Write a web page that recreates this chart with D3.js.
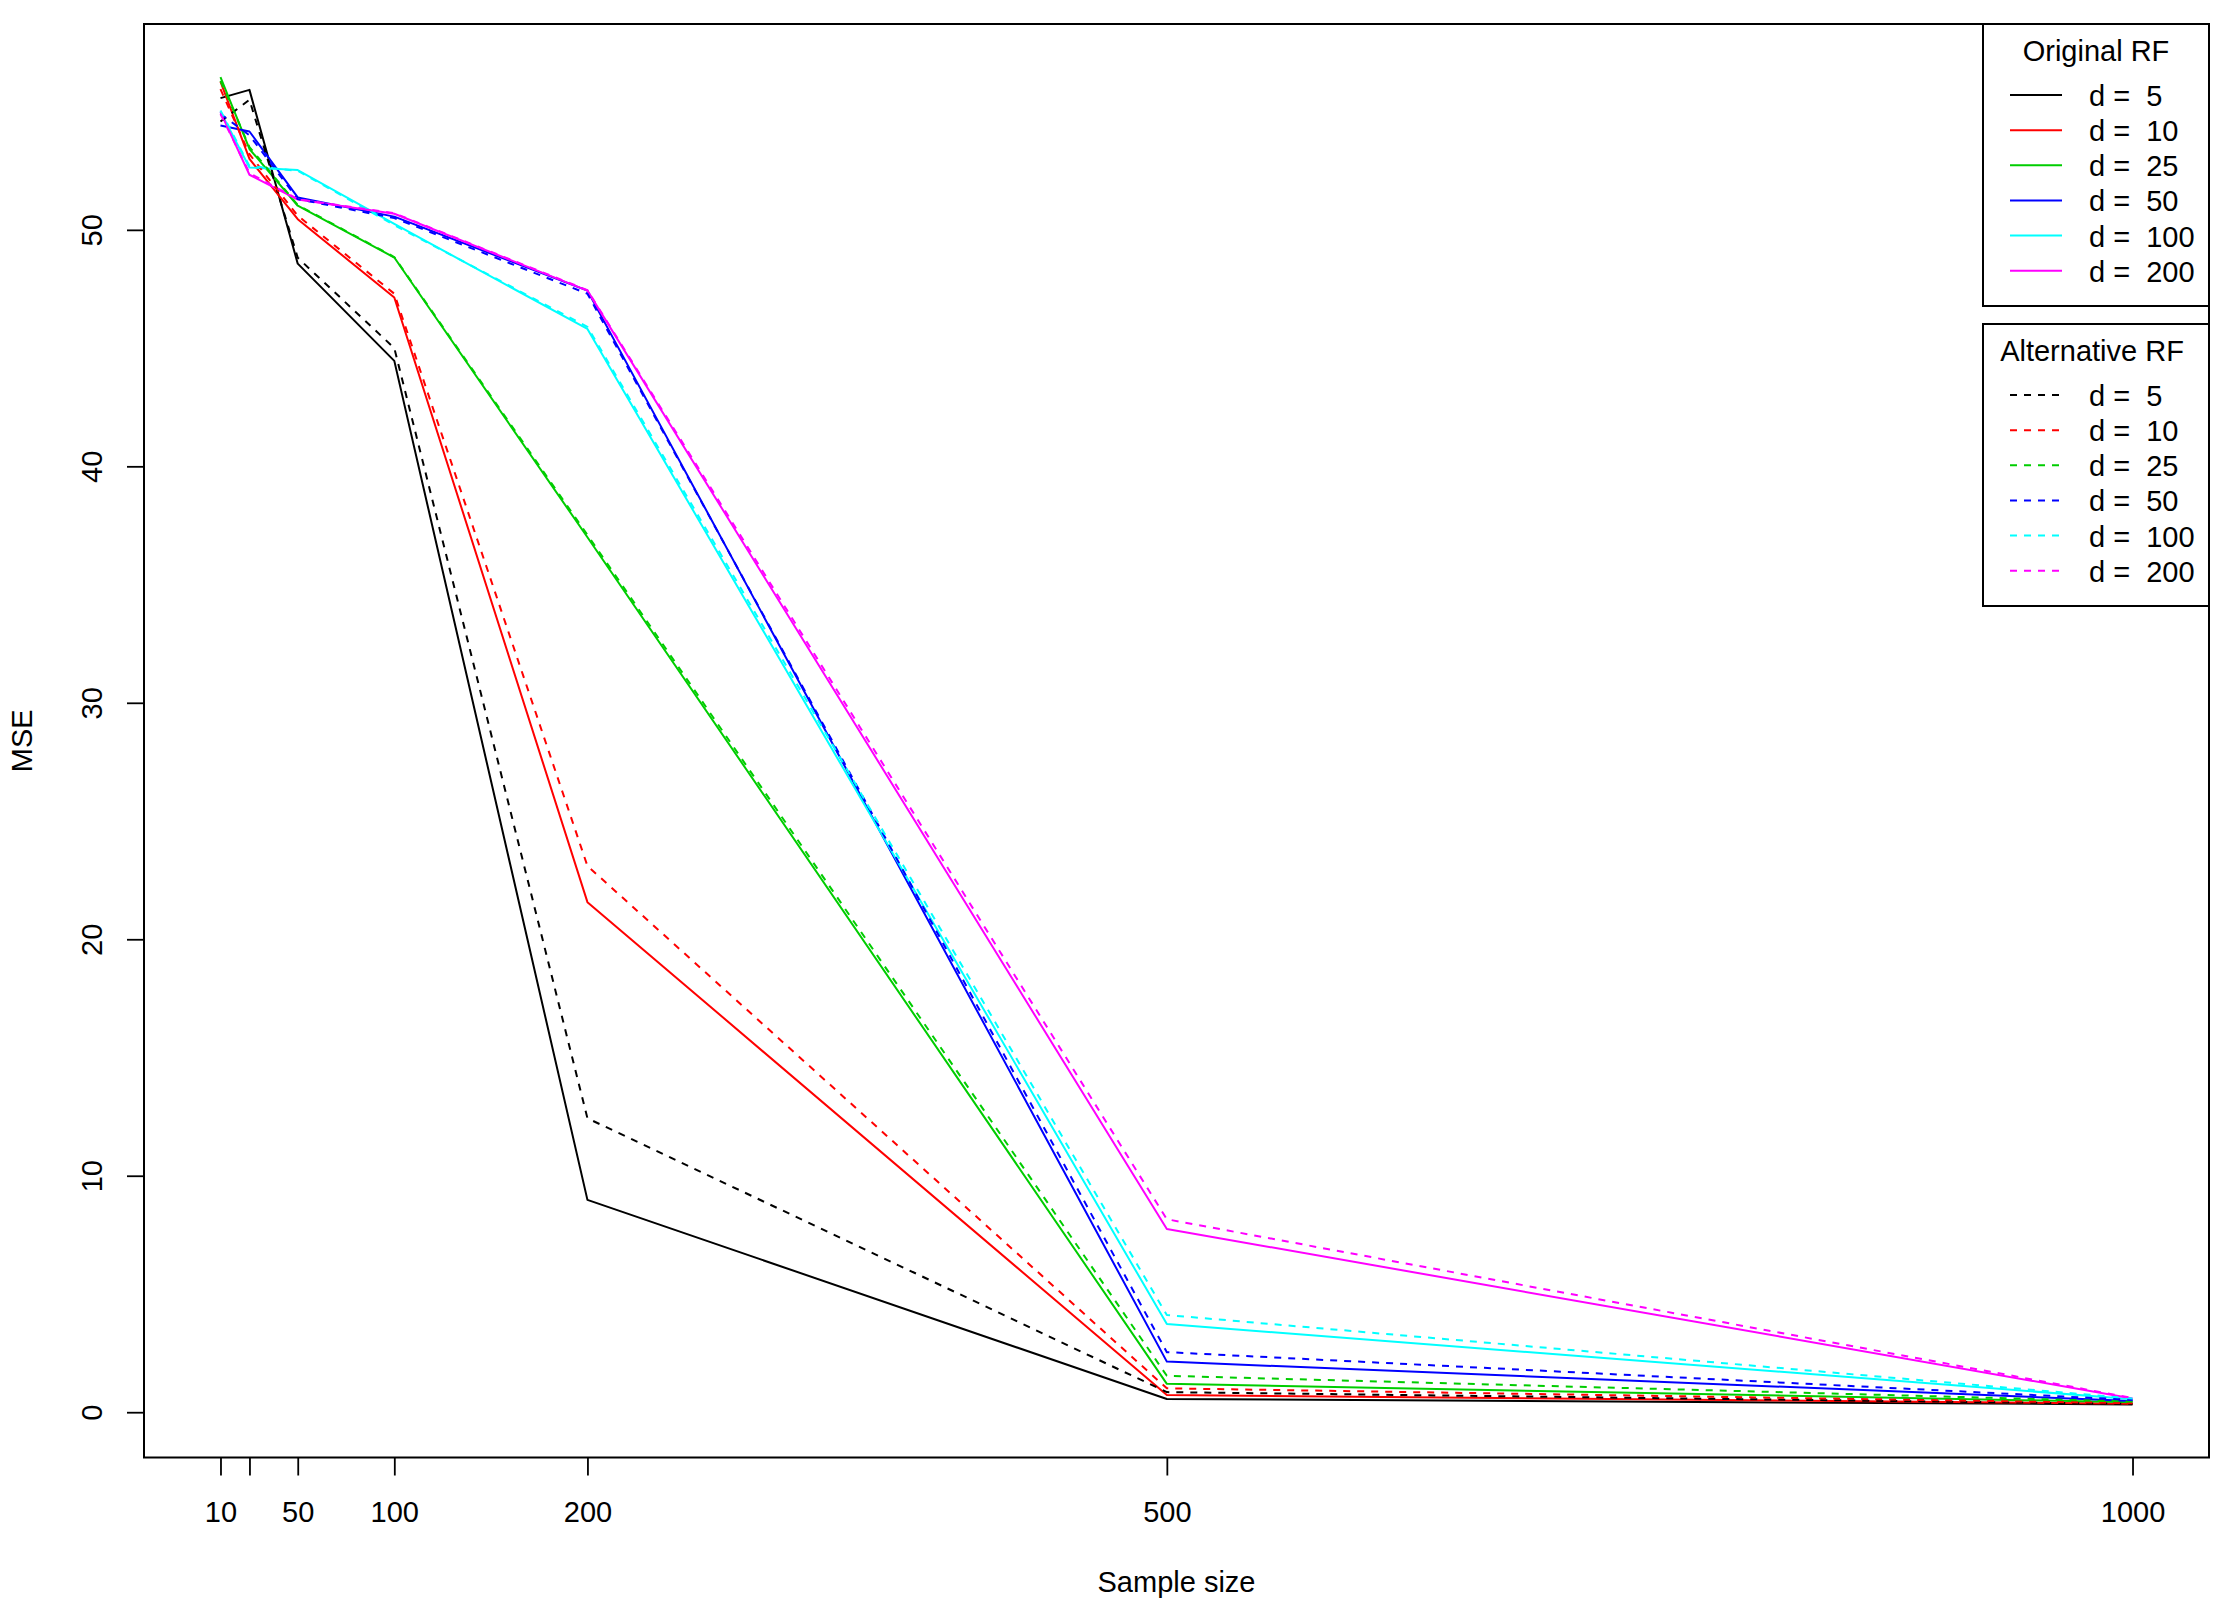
<!DOCTYPE html>
<html>
<head>
<meta charset="utf-8">
<script src="https://cdn.jsdelivr.net/npm/d3@7"></script>
<style>
  html, body { margin: 0; padding: 0; background: #ffffff; }
  svg { display: block; }
  text { font-family: "Liberation Sans", Arial, Helvetica, sans-serif; fill: #000; }
</style>
</head>
<body>
<script>
// ---------------- data ----------------
const sampleSizes = [10, 25, 50, 100, 200, 500, 1000];
const dims = [5, 10, 25, 50, 100, 200];
const seriesColors = ["#000000", "#FF0000", "#00CD00", "#0000FF", "#00FFFF", "#FF00FF"];

// Original RF (solid)
const orig_d5   = [55.57, 55.92, 48.57, 44.46, 8.98, 0.56, 0.33];
const orig_d10  = [56.27, 53.00, 50.45, 47.14, 21.57, 0.73, 0.36];
const orig_d25  = [56.46, 53.42, 51.02, 48.83, 37.00, 1.20, 0.42];
const orig_d50  = [54.41, 54.16, 51.37, 50.56, 47.43, 2.14, 0.47];
const orig_d100 = [55.00, 52.64, 52.53, 50.25, 45.81, 3.73, 0.55];
const orig_d200 = [54.98, 52.33, 51.28, 50.68, 47.43, 7.75, 0.58];

// Alternative RF (dashed)
const alt_d5   = [54.58, 55.50, 48.82, 45.00, 12.43, 0.85, 0.35];
const alt_d10  = [55.95, 53.20, 50.60, 47.30, 23.10, 1.01, 0.38];
const alt_d25  = [56.30, 53.50, 51.05, 48.85, 37.10, 1.54, 0.45];
const alt_d50  = [54.90, 54.00, 51.30, 50.50, 47.30, 2.54, 0.52];
const alt_d100 = [55.05, 52.70, 52.50, 50.20, 45.90, 4.11, 0.58];
const alt_d200 = [54.90, 52.40, 51.30, 50.70, 47.45, 8.16, 0.60];

const xTickValues = [10, 25, 50, 100, 200, 500, 1000];
const xTickLabels = ["10", "", "50", "100", "200", "500", "1000"];
const yTickValues = [0, 10, 20, 30, 40, 50];
const yTickLabels = ["0", "10", "20", "30", "40", "50"];

const xTitle = "Sample size";
const yTitle = "MSE";
const legendTitles = ["Original RF", "Alternative RF"];

const originalSeries = [orig_d5, orig_d10, orig_d25, orig_d50, orig_d100, orig_d200];
const alternativeSeries = [alt_d5, alt_d10, alt_d25, alt_d50, alt_d100, alt_d200];

// ---------------- layout ----------------
const W = 2235, H = 1622;
const plot = { left: 144, right: 2209, top: 24, bottom: 1457.5 };
const FONT = 29;
const DASH = "7,7";

const svg = d3.select("body").append("svg")
  .attr("width", W).attr("height", H)
  .attr("viewBox", `0 0 ${W} ${H}`);

svg.append("rect").attr("x", 0).attr("y", 0).attr("width", W).attr("height", H).attr("fill", "#fff");

// R-like 4% range extension
function extDomain(lo, hi) {
  const r = hi - lo;
  return [lo - 0.04 * r, hi + 0.04 * r];
}
const xExt = d3.extent(sampleSizes);
const allVals = originalSeries.concat(alternativeSeries).flat();
const yExt = d3.extent(allVals);

const x = d3.scaleLinear().domain(extDomain(xExt[0], xExt[1])).range([plot.left, plot.right]);
const y = d3.scaleLinear().domain(extDomain(yExt[0], yExt[1])).range([plot.bottom, plot.top]);

const line = d3.line()
  .x((d, i) => x(sampleSizes[i]))
  .y(d => y(d));

const g = svg.append("g");

// solid lines (Original RF)
originalSeries.forEach((vals, k) => {
  g.append("path")
    .attr("d", line(vals))
    .attr("fill", "none")
    .attr("stroke", seriesColors[k])
    .attr("stroke-width", 2)
    .attr("stroke-linejoin", "round");
});
// dashed lines (Alternative RF)
alternativeSeries.forEach((vals, k) => {
  g.append("path")
    .attr("d", line(vals))
    .attr("fill", "none")
    .attr("stroke", seriesColors[k])
    .attr("stroke-width", 2)
    .attr("stroke-dasharray", DASH)
    .attr("stroke-linejoin", "round");
});

// ---------------- axes ----------------
const xAxis = d3.axisBottom(x)
  .tickValues(xTickValues)
  .tickFormat((d, i) => xTickLabels[i])
  .tickSize(18)
  .tickPadding(0);
const xg = svg.append("g").attr("transform", `translate(0,${plot.bottom})`).call(xAxis);
xg.select(".domain").remove();
xg.selectAll(".tick line").attr("stroke", "#000").attr("stroke-width", 1.8);
xg.selectAll(".tick text")
  .attr("font-size", FONT)
  .attr("font-family", "Liberation Sans, Arial, sans-serif")
  .attr("fill", "#000")
  .attr("dy", null)
  .attr("y", 64.5);

const yAxis = d3.axisLeft(y)
  .tickValues(yTickValues)
  .tickFormat((d, i) => yTickLabels[i])
  .tickSize(17)
  .tickPadding(0);
const yg = svg.append("g").attr("transform", `translate(${plot.left},0)`).call(yAxis);
yg.select(".domain").remove();
yg.selectAll(".tick line").attr("stroke", "#000").attr("stroke-width", 1.8);
yg.selectAll(".tick text")
  .attr("font-size", FONT)
  .attr("font-family", "Liberation Sans, Arial, sans-serif")
  .attr("fill", "#000")
  .attr("x", null).attr("dy", null)
  .attr("text-anchor", "middle")
  .attr("transform", `translate(${102 - plot.left},0) rotate(-90)`);

// plot frame
svg.append("rect")
  .attr("x", plot.left).attr("y", plot.top)
  .attr("width", plot.right - plot.left).attr("height", plot.bottom - plot.top)
  .attr("fill", "none").attr("stroke", "#000").attr("stroke-width", 2);

// axis titles
svg.append("text")
  .attr("x", (plot.left + plot.right) / 2).attr("y", 1592)
  .attr("text-anchor", "middle").attr("font-size", FONT)
  .text(xTitle);
svg.append("text")
  .attr("transform", `translate(32,${(plot.top + plot.bottom) / 2}) rotate(-90)`)
  .attr("text-anchor", "middle").attr("font-size", FONT)
  .text(yTitle);

// ---------------- legends ----------------
function drawLegend(top, title, dashed, titleShift) {
  const left = 1983, right = plot.right;
  const rowStep = 35.14;
  const firstRow = top + 71;
  const bottom = firstRow + (dims.length - 1) * rowStep + 35.3;
  const lg = svg.append("g");
  lg.append("rect")
    .attr("x", left).attr("y", top)
    .attr("width", right - left).attr("height", bottom - top)
    .attr("fill", "#fff").attr("stroke", "#000").attr("stroke-width", 2);
  lg.append("text")
    .attr("x", (left + right) / 2 + titleShift).attr("y", top + 37)
    .attr("text-anchor", "middle").attr("font-size", FONT)
    .text(title);
  dims.forEach((d, i) => {
    const yy = firstRow + i * rowStep;
    lg.append("line")
      .attr("x1", left + 27).attr("x2", left + 79)
      .attr("y1", yy).attr("y2", yy)
      .attr("stroke", seriesColors[i]).attr("stroke-width", 2)
      .attr("stroke-dasharray", dashed ? DASH : null);
    lg.append("text")
      .attr("x", left + 106).attr("y", yy + 11)
      .attr("font-size", FONT)
      .attr("xml:space", "preserve")
      .style("white-space", "pre")
      .text("d =  " + d);
  });
  return bottom;
}
drawLegend(24, legendTitles[0], false, 0);
drawLegend(324, legendTitles[1], true, -4);
</script>
</body>
</html>
